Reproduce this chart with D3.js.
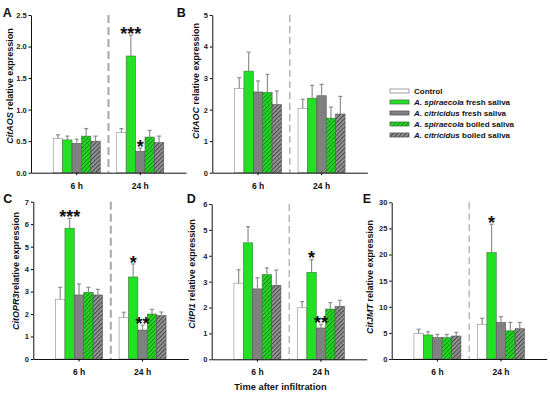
<!DOCTYPE html>
<html><head><meta charset="utf-8">
<script src="https://cdn.jsdelivr.net/npm/d3@7"></script>
<style>body{margin:0;background:#fff} text{font-family:Arial,"Liberation Sans",sans-serif}</style>
</head><body><svg id="c" width="550" height="398"></svg>
<script>
// ---------- data ----------
const times = ["6 h", "24 h"];
const series = ["Control", "A. spiraecola fresh saliva", "A. citricidus fresh saliva",
                "A. spiraecola boiled saliva", "A. citricidus boiled saliva"];
const panelIds = ["A", "B", "C", "D", "E"];
const genes = ["CitAOS", "CitAOC", "CitOPR3", "CitPI1", "CitJMT"];
const yLabelRest = [" relative expression", " relative expression", "relative expression", " relative expression", " relative expression"];
const yMax = [2.5, 5, 7, 6, 30];
const yStep = [0.5, 1, 1, 1, 5];
const yFormat = [".1f", "d", "d", "d", "d"];
// means: [6 h values, 24 h values], order = series
const meanAOS = [[0.54, 0.52, 0.465, 0.58, 0.50], [0.64, 1.85, 0.34, 0.565, 0.48]];
const seAOS   = [[0.06, 0.06, 0.065, 0.12, 0.08], [0.06, 0.33, 0.05, 0.105, 0.10]];
const meanAOC = [[2.67, 3.22, 2.56, 2.55, 2.16], [2.04, 2.36, 2.44, 1.73, 1.86]];
const seAOC   = [[0.34, 0.60, 0.35, 0.57, 0.43], [0.29, 0.41, 0.36, 0.35, 0.56]];
const meanOPR3 = [[2.66, 5.82, 2.85, 2.97, 2.85], [1.85, 3.65, 1.29, 2.00, 1.93]];
const seOPR3   = [[0.53, 0.44, 0.49, 0.22, 0.25], [0.23, 0.58, 0.21, 0.21, 0.16]];
const meanPI1 = [[2.94, 4.50, 2.72, 3.27, 2.86], [1.99, 3.36, 1.21, 1.94, 2.05]];
const sePI1   = [[0.52, 0.62, 0.43, 0.26, 0.59], [0.24, 0.49, 0.14, 0.25, 0.23]];
const meanJMT = [[4.9, 4.6, 4.1, 4.1, 4.4], [6.6, 20.4, 7.0, 5.4, 5.8]];
const seJMT   = [[0.8, 0.6, 0.6, 0.6, 0.7], [1.2, 5.4, 1.1, 1.6, 1.2]];
const means = [meanAOS, meanAOC, meanOPR3, meanPI1, meanJMT];
const ses = [seAOS, seAOC, seOPR3, sePI1, seJMT];
// significance marks: panel index, time, series index, label
const sigPanel = [0, 0, 2, 2, 2, 3, 3, 4];
const sigTime = ["24 h", "24 h", "6 h", "24 h", "24 h", "24 h", "24 h", "24 h"];
const sigSeries = [1, 2, 1, 1, 2, 1, 2, 1];
const sigText = ["***", "*", "***", "*", "**", "*", "**", "*"];
const xTitle = "Time after infiltration";

// ---------- layout / style ----------
const layout = [
  {x0: 31,    top: 15,    bottom: 172.7, lx: 13,    ly: 86,  px: 2.7,   py: 16.5},
  {x0: 212.3, top: 15,    bottom: 172.7, lx: 198.5, ly: 81,  px: 176.7, py: 16.5},
  {x0: 33.3,  top: 201.7, bottom: 359,   lx: 18.5,  ly: 271, px: 3.3,   py: 202.5},
  {x0: 211.7, top: 204,   bottom: 359.3, lx: 195,   ly: 274, px: 186.7, py: 202.5},
  {x0: 391.7, top: 202.3, bottom: 359,   lx: 372.5, ly: 277, px: 362.7, py: 202.5}
];
const dashStyle = [{w: 2, d: "8,4"}, {w: 1.3, d: "7,4"}, {w: 2, d: "8,4"}, {w: 1.2, d: "7,4"}, {w: 1.2, d: "7,4"}];
const green = "#22e022";
const svg = d3.select("#c");
const defs = svg.append("defs");
function hatch(id, base, line) {
  const p = defs.append("pattern").attr("id", id).attr("patternUnits", "userSpaceOnUse")
    .attr("width", 3).attr("height", 3).attr("patternTransform", "rotate(45)");
  p.append("rect").attr("width", 3).attr("height", 3).attr("fill", base);
  p.append("rect").attr("width", 1.2).attr("height", 3).attr("fill", line);
}
hatch("hg", green, "#1b8f1b");
hatch("hgr", "#9a9a9a", "#4a4a4a");
const fills = ["#ffffff", green, "#808080", "url(#hg)", "url(#hgr)"];
const strokes = ["#8c8c8c", "#3c7a3c", "#555", "#3c7a3c", "#555"];

panelIds.forEach((pid, i) => {
  const L = layout[i];
  const x = d3.scaleBand().domain(times).range([L.x0, L.x0 + 155]).paddingInner(0.26).paddingOuter(0.35);
  const xs = d3.scaleBand().domain(d3.range(series.length)).range([0, x.bandwidth()]);
  const y = d3.scaleLinear().domain([0, yMax[i]]).range([L.bottom, L.top]);
  const g = svg.append("g");

  // divider
  const mid = (x(times[0]) + x.bandwidth() + x(times[1])) / 2;
  g.append("line").attr("x1", mid).attr("x2", mid).attr("y1", L.top).attr("y2", L.bottom)
    .attr("stroke", "#a8a8a8").attr("stroke-width", dashStyle[i].w).attr("stroke-dasharray", dashStyle[i].d);

  // bars
  const rows = [];
  times.forEach((t, ti) => series.forEach((s, si) => rows.push({t, si, m: means[i][ti][si], e: ses[i][ti][si]})));
  g.selectAll("rect.bar").data(rows).join("rect").attr("class", "bar")
    .attr("x", d => x(d.t) + xs(d.si)).attr("width", xs.bandwidth())
    .attr("y", d => y(d.m)).attr("height", d => y(0) - y(d.m))
    .attr("fill", d => fills[d.si]).attr("stroke", d => strokes[d.si]).attr("stroke-width", 0.6);
  // error bars
  const cx = d => x(d.t) + xs(d.si) + xs.bandwidth() / 2;
  g.selectAll("line.eb").data(rows).join("line").attr("class", "eb")
    .attr("x1", cx).attr("x2", cx).attr("y1", d => y(d.m)).attr("y2", d => y(d.m + d.e))
    .attr("stroke", "#8e8e8e").attr("stroke-width", 1.2);
  g.selectAll("line.cap").data(rows).join("line").attr("class", "cap")
    .attr("x1", d => cx(d) - 2).attr("x2", d => cx(d) + 2).attr("y1", d => y(d.m + d.e)).attr("y2", d => y(d.m + d.e))
    .attr("stroke", "#8e8e8e").attr("stroke-width", 1.2);

  // significance
  sigPanel.forEach((pp, k) => {
    if (pp !== i) return;
    const ti = times.indexOf(sigTime[k]), si = sigSeries[k];
    const top = y(means[i][ti][si] + ses[i][ti][si]);
    g.append("text").attr("x", x(sigTime[k]) + xs(si) + xs.bandwidth() / 2).attr("y", top + 4.7)
      .attr("text-anchor", "middle").attr("font-size", 18).attr("font-weight", "bold")
      .attr("fill", "#111").text(sigText[k]);
  });

  // axes
  const ya = d3.axisLeft(y).tickValues(d3.range(0, yMax[i] + 1e-9, yStep[i]))
    .tickFormat(d3.format(yFormat[i])).tickSize(2.5).tickSizeOuter(0).tickPadding(1.8);
  const yg = g.append("g").attr("transform", `translate(${L.x0},0)`).call(ya);
  yg.selectAll("text").attr("font-size", 7.5).attr("font-weight", "bold").attr("fill", "#222");
  yg.select(".domain").attr("stroke", "#111");
  const xa = d3.axisBottom(x).tickSize(2.5).tickSizeOuter(0).tickPadding(7.3);
  const xg = g.append("g").attr("transform", `translate(0,${L.bottom})`).call(xa);
  xg.selectAll("text").attr("font-size", 8.5).attr("font-weight", "bold").attr("fill", "#111");
  xg.select(".domain").attr("stroke", "#111");
  [yg, xg].forEach(a => a.attr("font-family", null));

  // y label
  const yl = g.append("text").attr("transform", `translate(${L.lx},${L.ly}) rotate(-90)`)
    .attr("text-anchor", "middle").attr("font-size", 9).attr("font-weight", "bold").attr("fill", "#111");
  yl.append("tspan").attr("font-style", "italic").text(genes[i]);
  yl.append("tspan").text(yLabelRest[i]);

  // panel letter
  g.append("text").attr("x", L.px).attr("y", L.py).attr("font-size", 12.5).attr("font-weight", "bold")
    .attr("fill", "#111").text(pid);
});

// x title
svg.append("text").attr("x", 280.5).attr("y", 390).attr("text-anchor", "middle")
  .attr("font-size", 9.3).attr("font-weight", "bold").attr("fill", "#111").text(xTitle);

// legend
const lg = svg.append("g");
series.forEach((s, si) => {
  const cy = 91 + si * 11;
  lg.append("rect").attr("x", 390).attr("y", cy - 2).attr("width", 19).attr("height", 4)
    .attr("fill", fills[si]).attr("stroke", strokes[si]).attr("stroke-width", 0.8);
  const t = lg.append("text").attr("x", 414).attr("y", cy + 3).attr("font-size", 8)
    .attr("font-weight", "bold").attr("fill", "#111");
  const m = s.match(/^(A\. \w+)(.*)$/);
  if (m) { t.append("tspan").attr("font-style", "italic").text(m[1]); t.append("tspan").text(m[2]); }
  else t.text(s);
});
</script></body></html>
